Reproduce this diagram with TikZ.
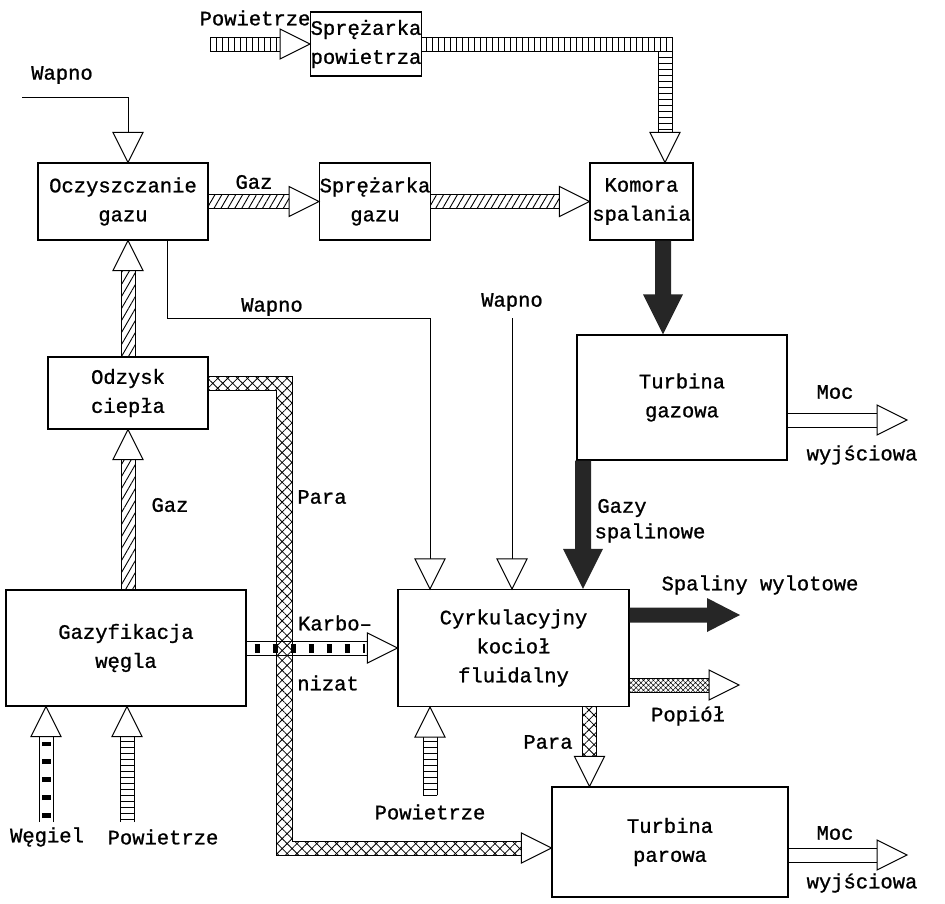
\documentclass[tikz,border=0pt]{standalone}
\usepackage{fontspec}
\setmainfont{Liberation Mono}[UprightFeatures={FakeBold=1}]
\usetikzlibrary{calc,patterns.meta}
\newcommand\fs{\fontsize{20.5}{29}\selectfont}
\tikzset{
  box/.style={draw, line width=1.1pt, align=center, inner sep=0pt, font=\fs},
  lbl/.style={font=\fs, inner sep=0pt, anchor=center},
  thinl/.style={line width=1pt},
  openhead/.style={draw, fill=white, line width=1pt, line join=miter},
  ladv/.style={pattern={Lines[angle=90,distance=6pt,line width=0.9pt]}},
  ladh/.style={pattern={Lines[angle=0,distance=6pt,line width=0.9pt]}},
  diag/.style={pattern={Lines[angle=60,distance=6pt,line width=0.9pt]}},
  xhatch/.style={pattern={Hatch[angle=45,distance=7pt,line width=0.8pt]}},
  fine/.style={pattern={Hatch[angle=45,distance=3.5pt,line width=0.5pt]}},
  plain/.style={fill=white},
  blocks/.style={line width=9pt, dash pattern=on 5pt off 13pt},
}
\newcommand\headat[2]{%
  \coordinate (hb) at ($(#2)!30pt!(#1)$);
  \draw[openhead] ($(hb)!15pt!90:(#2)$) -- (#2) -- ($(hb)!15pt!-90:(#2)$) -- cycle;}
\newcommand\blockarrow[3]{%
  \coordinate (bs) at (#2); \coordinate (bt) at (#3);
  \coordinate (bb) at ($(bt)!30pt!(bs)$);
  \path[#1] ($(bs)!7pt!90:(bt)$) -- ($(bb)!7pt!90:(bt)$) -- ($(bb)!7pt!-90:(bt)$) -- ($(bs)!7pt!-90:(bt)$) -- cycle;
  \draw[thinl] ($(bs)!7pt!90:(bt)$) -- ($(bb)!7pt!90:(bt)$);
  \draw[thinl] ($(bs)!7pt!-90:(bt)$) -- ($(bb)!7pt!-90:(bt)$);
  \draw[openhead] ($(bb)!15pt!90:(bt)$) -- (bt) -- ($(bb)!15pt!-90:(bt)$) -- cycle;}
\newcommand\darkarrow[5]{%
  \coordinate (ds) at (#4); \coordinate (dt) at (#5);
  \coordinate (db) at ($(dt)!#2pt!(ds)$);
  \fill[black!85] ($(ds)!#1pt!90:(dt)$) -- ($(db)!#1pt!90:(dt)$) -- ($(db)!#3pt!90:(dt)$) -- (dt) -- ($(db)!#3pt!-90:(dt)$) -- ($(db)!#1pt!-90:(dt)$) -- ($(ds)!#1pt!-90:(dt)$) -- cycle;}
\begin{document}
\begin{tikzpicture}[x=1pt,y=-1pt]
\useasboundingbox (0,0) rectangle (945,903);
% boxes
\node[box, minimum width=108pt, minimum height=64pt] (spp) at (366,44) {Sprężarka\\powietrza};
\node[box, minimum width=170pt, minimum height=77pt] (ocz) at (123,201.5) {Oczyszczanie\\gazu};
\node[box, minimum width=106pt, minimum height=77pt] (spg) at (375,201.5) {Sprężarka\\gazu};
\node[box, minimum width=103pt, minimum height=77pt] (kom) at (641.5,201.5) {Komora\\spalania};
\node[box, minimum width=210pt, minimum height=125pt] (tg) at (682,397.5) {Turbina\\gazowa};
\node[box, minimum width=160pt, minimum height=72pt] (odz) at (128,393) {Odzysk\\ciepła};
\node[box, minimum width=240pt, minimum height=116pt] (gaz) at (126,648) {Gazyfikacja\\węgla};
\node[box, minimum width=231pt, minimum height=117pt] (cyr) at (513.5,648) {Cyrkulacyjny\\kocioł\\fluidalny};
\node[box, minimum width=236pt, minimum height=110pt] (tp) at (670,842) {Turbina\\parowa};
% labels
\node[lbl] (l1) at (255,18) {Powietrze};
\node[lbl] (l2) at (62,75) {Wapno};
\node[lbl] (l3) at (254,182) {Gaz};
\node[lbl] (l4) at (272,307) {Wapno};
\node[lbl] (l5) at (512,302) {Wapno};
\node[lbl] (l6) at (170,505) {Gaz};
\node[lbl] (l7) at (322,497) {Para};
\node[lbl] (l8) at (335,623) {Karbo--};
\node[lbl] (l9) at (328,683) {nizat};
\node[lbl] (l10) at (622,508) {Gazy};
\node[lbl] (l11) at (650,533) {spalinowe};
\node[lbl] (l12) at (760,585) {Spaliny\hspace{0.6em}wylotowe};
\node[lbl] (l13) at (688,716) {Popiół};
\node[lbl] (l14) at (548,742) {Para};
\node[lbl] (l15) at (835,392) {Moc};
\node[lbl] (l16) at (862,455) {wyjściowa};
\node[lbl] (l17) at (835,833) {Moc};
\node[lbl] (l18) at (862,883) {wyjściowa};
\node[lbl] (l19) at (47,837) {Węgiel};
\node[lbl] (l20) at (163,837) {Powietrze};
\node[lbl] (l21) at (430,812) {Powietrze};
% free ends
\coordinate (pw0) at (210,44);
\coordinate (m1) at (907,420);
\coordinate (m2) at (907,855);
\coordinate (pop) at (739,685);
\coordinate (sp) at (740,615);
\coordinate (pc0) at (430,795);
\coordinate (wg0) at (46,822);
\coordinate (pg0) at (127,822);
% straight block arrows
\blockarrow{ladv}{pw0}{spp.west}
\blockarrow{diag}{ocz.east}{spg.west}
\blockarrow{diag}{spg.east}{kom.west}
\blockarrow{diag}{odz.north}{$(ocz.south)+(5,0)$}
\blockarrow{diag}{odz.south |- gaz.north}{odz.south}
\blockarrow{plain}{$(tg.east)+(0,22.5)$}{m1}
\blockarrow{plain}{$(tp.east)+(0,13)$}{m2}
\blockarrow{plain}{gaz.east}{cyr.west}
\draw[blocks] ($(gaz.east)+(8,0)$) -- ($(cyr.west)+(-32,0)$);
\blockarrow{fine}{$(cyr.east)+(0,37)$}{pop}
\blockarrow{xhatch}{$(cyr.south)+(76,0)$}{$(tp.north)+(-80.5,0)$}
\blockarrow{ladh}{pc0}{$(cyr.south)+(-83.5,0)$}
\blockarrow{plain}{wg0}{$(gaz.south)+(-80,0)$}
\draw[blocks] (46,818) -- (46,742);
\blockarrow{ladh}{pg0}{$(gaz.south)+(1,0)$}
% dark arrows
\darkarrow{8}{40}{20}{$(kom.south)+(21.5,0)$}{$(tg.north)+(-19,0)$}
\darkarrow{8}{40}{20}{$(tg.south)+(-99,0)$}{$(cyr.north)+(69.5,0)$}
\darkarrow{7.5}{33}{17}{$(cyr.east)+(0,-33)$}{sp}
% thin Wapno lines
\coordinate (wa0) at (22,97);
\coordinate (wa1) at (128,97);
\coordinate (wa2) at ($(ocz.north)+(5,0)$);
\draw[thinl] (wa0) -- (wa1) -- (wa2);
\headat{wa1}{wa2}
\coordinate (wb1) at ($(ocz.south)+(44,0)$);
\coordinate (wb2) at (167,318);
\coordinate (wb3) at (430,318);
\coordinate (wb4) at ($(cyr.north)+(-83.5,0)$);
\draw[thinl] (wb1) -- (wb2) -- (wb3) -- (wb4);
\headat{wb3}{wb4}
\coordinate (wc1) at (512,318);
\coordinate (wc2) at ($(cyr.north)+(-1.5,0)$);
\draw[thinl] (wc1) -- (wc2);
\headat{wc1}{wc2}
% bent air arrow
\coordinate (ac) at (665,44);
\coordinate (at) at ($(kom.north)+(23.5,0)$);
\path[ladv] ($(spp.east)+(0,-7)$) rectangle (672,51);
\path[ladh] (658,51) rectangle (672,133);
\draw[thinl] ($(spp.east)+(0,-7)$) -- (672,37) -- (672,133);
\draw[thinl] ($(spp.east)+(0,7)$) -- (658,51) -- (658,133);
\headat{ac}{at}
% bent steam (Para) arrow
\coordinate (pt) at ($(tp.west)+(0,6)$);
\coordinate (pc) at (284,848);
\path[xhatch] (208,376) -- (292,376) -- (292,841) -- (522,841) -- (522,855) -- (276,855) -- (276,390) -- (208,390) -- cycle;
\draw[thinl] (208,376) -- (292,376) -- (292,841) -- (522,841);
\draw[thinl] (208,390) -- (276,390) -- (276,855) -- (522,855);
\headat{pc}{pt}
\end{tikzpicture}
\end{document}
